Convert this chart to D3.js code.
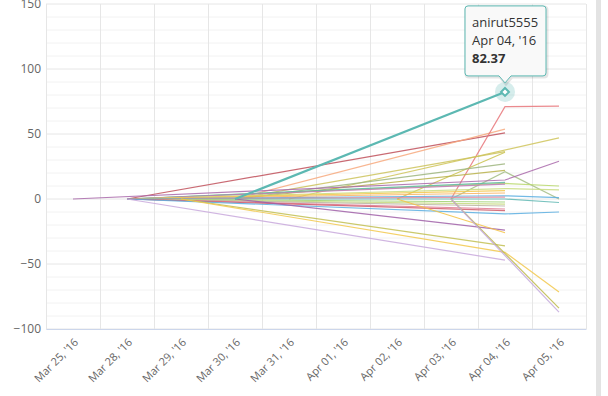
<!DOCTYPE html>
<html>
<head>
<meta charset="utf-8">
<script src="https://cdn.jsdelivr.net/npm/d3@7"></script>
<style>
  body { margin: 0; background: #fff; }
  svg { display: block; font-family: "Open Sans", "Liberation Sans", sans-serif; }
</style>
</head>
<body>
<script>
    // categories (x axis)
    const dates = ["Mar 25, '16", "Mar 28, '16", "Mar 29, '16", "Mar 30, '16", "Mar 31, '16",
                   "Apr 01, '16", "Apr 02, '16", "Apr 03, '16", "Apr 04, '16", "Apr 05, '16"];

    const yTicks = [-100, -50, 0, 50, 100, 150];

    const n = null;
    // one row per user, null = no value that day
    const seriesNames = ["anirut5555", "s2", "s3", "s4", "s5", "s6", "s7", "s8", "s9", "s10",
        "s11", "s12", "s13", "s14", "s15", "s16", "s17", "s18", "s19", "s20", "s21", "s22",
        "s23", "s24", "s25", "s26", "s27", "s28", "s29", "s30", "s31", "s32"];
    const seriesValues = [
        [n, n, n, 0, n, n, n, n, 82.37, n],
        [n, 0, n, n, n, n, n, n, 50.8, n],
        [n, n, n, 0, n, n, n, n, 53.8, n],
        [n, n, n, n, n, n, n, 0, 71, 71.5],
        [n, n, n, n, 0, n, n, n, n, 47],
        [n, n, n, n, n, n, 0, n, 36, n],
        [n, n, n, 0, n, n, n, n, 36.5, n],
        [n, n, n, 0, n, n, n, n, 27, n],
        [n, n, n, 0, n, n, n, n, 22, n],
        [n, n, n, n, n, n, n, 0, 21, 0],
        [0, n, n, n, n, n, n, n, 14.6, 29],
        [n, 0, n, n, n, n, n, n, 12, 10],
        [n, 0, n, n, n, n, n, n, 12.8, n],
        [n, 0, n, n, n, n, n, n, 11.4, n],
        [n, 0, n, n, n, n, n, n, 8, 7],
        [n, 0, n, n, n, n, n, n, 6.4, n],
        [n, 0, n, n, n, n, n, n, 4.6, n],
        [n, 0, n, n, n, n, n, n, 2.5, 1],
        [n, 0, n, n, n, n, n, n, 1.5, n],
        [n, 0, n, n, n, n, n, n, 0, -2.7],
        [n, 0, n, n, n, n, n, n, -2.3, n],
        [n, 0, n, n, n, n, n, n, -4, n],
        [n, 0, n, n, n, n, n, n, -5.4, n],
        [n, 0, n, n, n, n, n, n, -7.7, n],
        [n, 0, n, n, n, n, n, n, -9, n],
        [n, 0, n, n, n, n, n, n, -11.5, -10],
        [n, n, n, 0, n, n, n, n, -24, n],
        [n, n, n, n, n, n, 0, n, -26, n],
        [n, n, 0, n, n, n, n, n, -36, n],
        [n, n, 0, n, n, n, n, n, -41, -71.5],
        [n, n, n, n, n, n, n, 0, n, -84],
        [n, 0, n, n, n, n, n, n, -47, n]
    ];
    const extraLavender = [n, n, n, n, n, n, n, 0, n, -87];

    const palette = ["#5cb8b2", "#c0505a", "#f7a97e", "#e8767a", "#cfc45a", "#c9c24c", "#cdc35c",
        "#9db57e", "#b9b24a", "#a3bd84", "#a968aa", "#b8d86b", "#5ab8a0", "#c07ab8", "#c8dc80",
        "#f2c84c", "#f7b060", "#5aaee0", "#e58aa0", "#62b8b4", "#9ed070", "#c4d87c", "#b9b4a0",
        "#e07a90", "#d05a6a", "#5aaee0", "#a060a8", "#f5c243", "#c2c052", "#f2c84c", "#bdb84a", "#c8a8dc"];

    const margin = {left: 46, top: 4, right: 22, bottom: 67},
        width = 608 - margin.left - margin.right,
        height = 396 - margin.top - margin.bottom;

    const svg = d3.select('body').append('svg')
        .attr('width', 608)
        .attr('height', 396);

    // scrollbar-ish strip on the right
    svg.append('rect')
        .attr('x', 596).attr('y', 0).attr('width', 5).attr('height', 396)
        .attr('fill', '#e3e3e3');

    const g = svg.append('g')
        .attr('transform', `translate(${margin.left}, ${margin.top})`);

    const xScale = d3.scaleBand()
        .domain(dates)
        .range([0, width]);

    const yScale = d3.scaleLinear()
        .domain([-100, 150])
        .range([height, 0]);

    // minor grid
    g.append('g').selectAll('line')
        .data(d3.range(-100, 151, 10).filter(v => v % 50 !== 0))
        .enter().append('line')
            .attr('x1', 0).attr('x2', width)
            .attr('y1', d => yScale(d)).attr('y2', d => yScale(d))
            .attr('stroke', '#f2f2f2');

    // major grid
    g.append('g').selectAll('line')
        .data(yTicks)
        .enter().append('line')
            .attr('x1', 0).attr('x2', width)
            .attr('y1', d => yScale(d)).attr('y2', d => yScale(d))
            .attr('stroke', '#e6e6e6');

    // vertical grid on band edges
    g.append('g').selectAll('line')
        .data(dates.concat(['end']))
        .enter().append('line')
            .attr('x1', (d, i) => i * xScale.bandwidth() + 0.5)
            .attr('x2', (d, i) => i * xScale.bandwidth() + 0.5)
            .attr('y1', 0).attr('y2', height)
            .attr('stroke', '#e6e6e6');

    // y axis labels
    const yAxis = d3.axisLeft(yScale).tickValues(yTicks).tickSize(0).tickPadding(5);
    const yAxisGroup = g.append('g').call(yAxis);
    yAxisGroup.select('.domain').remove();
    yAxisGroup.selectAll('text')
        .attr('font-size', '12px')
        .attr('fill', '#666')
        .attr('font-family', '"Open Sans", sans-serif');

    // x axis
    const xAxis = d3.axisBottom(xScale).tickSize(0).tickSizeOuter(0);
    const xAxisGroup = g.append('g')
        .attr('transform', `translate(0, ${height})`)
        .call(xAxis);
    xAxisGroup.select('.domain').attr('stroke', '#ccd6eb');
    xAxisGroup.selectAll('text')
        .attr('font-size', '11px')
        .attr('fill', '#666')
        .attr('font-family', '"Open Sans", sans-serif')
        .attr('text-anchor', 'end')
        .attr('dy', 0)
        .attr('y', 0)
        .attr('transform', 'translate(6, 14) rotate(-45)');

    const line = d3.line()
        .x(d => xScale(d.date) + xScale.bandwidth() / 2)
        .y(d => yScale(d.value));

    const toPoints = vals => vals
        .map((v, i) => ({date: dates[i], value: v}))
        .filter(d => d.value !== null);

    const allSeries = seriesValues.map((vals, i) => ({name: seriesNames[i], points: toPoints(vals), color: palette[i]}));
    allSeries.push({name: 's33', points: toPoints(extraLavender), color: '#c3a8dc'});

    // thin lines first, highlighted one on top
    g.append('g').selectAll('path')
        .data(allSeries.slice(1))
        .enter().append('path')
            .attr('d', d => line(d.points))
            .attr('fill', 'none')
            .attr('stroke', d => d.color)
            .attr('stroke-width', 1.2)
            .attr('stroke-opacity', 0.85);

    const hl = allSeries[0];
    g.append('path')
        .attr('d', line(hl.points))
        .attr('fill', 'none')
        .attr('stroke', hl.color)
        .attr('stroke-width', 2.2);

    // hover marker
    const last = hl.points[hl.points.length - 1];
    const mx = xScale(last.date) + xScale.bandwidth() / 2,
        my = yScale(last.value);
    g.append('circle')
        .attr('cx', mx).attr('cy', my).attr('r', 10)
        .attr('fill', hl.color).attr('fill-opacity', 0.25);
    g.append('path')
        .attr('d', d3.symbol().type(d3.symbolDiamond2).size(40)())
        .attr('transform', `translate(${mx}, ${my})`)
        .attr('fill', '#fff')
        .attr('stroke', hl.color)
        .attr('stroke-width', 2);

    // tooltip
    const tw = 81, th = 70, tipY = my - 9;
    const bx = mx - 40, by = tipY - 7 - th;
    const tip = g.append('g');
    const tipPath = `M${bx + 3},${by} h${tw - 6} q3,0 3,3 v${th - 6} q0,3 -3,3 ` +
        `H${mx + 6} L${mx},${tipY} L${mx - 6},${by + th} H${bx + 3} q-3,0 -3,-3 v${-(th - 6)} q0,-3 3,-3 Z`;
    tip.append('path')
        .attr('d', tipPath)
        .attr('transform', 'translate(1,1)')
        .attr('fill', 'none')
        .attr('stroke', '#000')
        .attr('stroke-opacity', 0.1)
        .attr('stroke-width', 3);
    tip.append('path')
        .attr('d', tipPath)
        .attr('fill', '#f9f9f9')
        .attr('stroke', hl.color)
        .attr('stroke-width', 1);
    const lines = [hl.name, last.date, last.value.toFixed(2)];
    tip.selectAll('text')
        .data(lines)
        .enter().append('text')
            .attr('x', bx + 7)
            .attr('y', (d, i) => by + 21 + i * 18)
            .attr('font-size', '13px')
            .attr('font-weight', (d, i) => i === 2 ? 'bold' : 'normal')
            .attr('fill', '#333')
            .text(d => d);
</script>
</body>
</html>
